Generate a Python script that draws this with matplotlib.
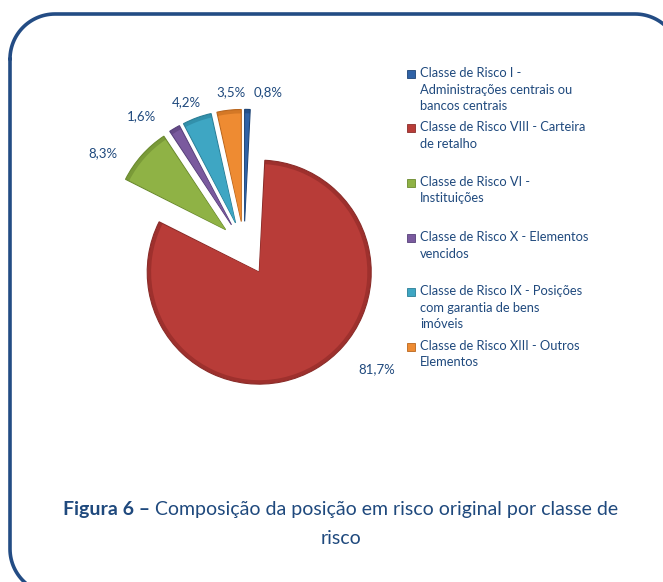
import numpy as np
import matplotlib
matplotlib.use("Agg")
import matplotlib.pyplot as plt
from matplotlib.patches import Rectangle, Wedge

# Data
classes = [
    "Classe de Risco I -\nAdministrações centrais ou\nbancos centrais",
    "Classe de Risco VIII - Carteira\nde retalho",
    "Classe de Risco VI -\nInstituições",
    "Classe de Risco X - Elementos\nvencidos",
    "Classe de Risco IX - Posições\ncom garantia de bens\nimóveis",
    "Classe de Risco XIII - Outros\nElementos",
]
shares = [0.8, 81.7, 8.3, 1.6, 4.2, 3.5]
share_labels = ["0,8%", "81,7%", "8,3%", "1,6%", "4,2%", "3,5%"]

colors = ["#2F62A6", "#B83C38", "#8FB245", "#7A5A9E", "#3EA6C3", "#EE8B32"]
rims = ["#24508A", "#9E302D", "#7A9A38", "#664A88", "#3290AB", "#D47826"]
edges = ["#1E4475", "#8A2C29", "#6A8A2E", "#56407A", "#2A7E96", "#B9661E"]
explode = [0.22, 0.27, 0.22, 0.22, 0.22, 0.22]
# label placement tweaks (degrees off the slice middle, radius from pie centre)
label_shift = [-7.4, 17.0, 8.2, 7.7, 1.8, -1.5]
label_rad = [1.39, 1.62, 1.51, 1.48, 1.38, 1.38]

W, H = 663, 582
text_col = "#1F497D"
plt.rcParams["font.family"] = ["Lato", "DejaVu Sans"]

fig = plt.figure(figsize=(W / 100, H / 100), dpi=100)

# pie axes: radius 1 == 112 px, centre at (244, 246) px
cx, cy, R = 244, 246, 112
ax = fig.add_axes([0, 0, 1, 1])
wedges, _ = ax.pie(shares, colors=rims, explode=explode, startangle=90,
                   counterclock=False,
                   wedgeprops=dict(linewidth=0.8))
for w, ec, c in zip(wedges, edges, colors):
    w.set_edgecolor(ec)
    # lighter inner face -> darker rim, a rough nod to the bevel look
    ax.add_patch(Wedge(w.center, w.r * 0.965, w.theta1 + 0.3, w.theta2 - 0.3,
                       facecolor=c, edgecolor="none"))
ax.set_xlim(-cx / R, (W - cx) / R)
ax.set_ylim(-(H - cy) / R, cy / R)
ax.set_aspect("auto")
ax.axis("off")

for w, lab, sh, rr in zip(wedges, share_labels, label_shift, label_rad):
    mid = np.deg2rad((w.theta1 + w.theta2) / 2 + sh)
    ax.text(rr * np.cos(mid), rr * np.sin(mid), lab, ha="center", va="center",
            fontsize=9.5, color=text_col)

# overlay axes in pixel coordinates (y down)
ov = fig.add_axes([0, 0, 1, 1], facecolor="none")
ov.set_xlim(0, W)
ov.set_ylim(H, 0)
ov.axis("off")

# rounded frame, runs off the right and bottom edge
bx0, by0, bx1, by1, rad = 10, 14, 680, 594, 45
t = np.linspace(0, np.pi / 2, 30)
xs = np.concatenate([bx0 + rad - rad * np.cos(t), bx1 - rad + rad * np.sin(t),
                     bx1 - rad + rad * np.cos(t), bx0 + rad - rad * np.sin(t), [bx0]])
ys = np.concatenate([by0 + rad - rad * np.sin(t), by0 + rad - rad * np.cos(t),
                     by1 - rad + rad * np.sin(t), by1 - rad + rad * np.cos(t), [by0 + rad]])
ov.plot(xs, ys, color="#234C84", lw=2.6, clip_on=False, solid_capstyle="round")

# legend
leg_y = [76, 130, 185, 240, 294, 349]
for name, c, ec, y in zip(classes, colors, edges, leg_y):
    ov.add_patch(Rectangle((407, y - 6), 8, 8, facecolor=c, edgecolor=ec, linewidth=0.6))
    ov.text(420, y - 9, name, ha="left", va="top", fontsize=9.3,
            color=text_col, linespacing=1.45)

# caption
fig.canvas.draw()
r = fig.canvas.get_renderer()
t1 = ov.text(0, 510, "Figura 6 \u2013 ", fontsize=14, fontweight="bold",
             color=text_col, va="center", ha="left")
t2 = ov.text(0, 510, "Composição da posição em risco original por classe de",
             fontsize=14, color=text_col, va="center", ha="left")
w1 = t1.get_window_extent(r).width
w2 = t2.get_window_extent(r).width
x0 = 340.5 - (w1 + w2) / 2
t1.set_x(x0)
t2.set_x(x0 + w1)
ov.text(340.5, 538, "risco", fontsize=14, color=text_col, va="center", ha="center")

fig.savefig("out.png", dpi=100)
